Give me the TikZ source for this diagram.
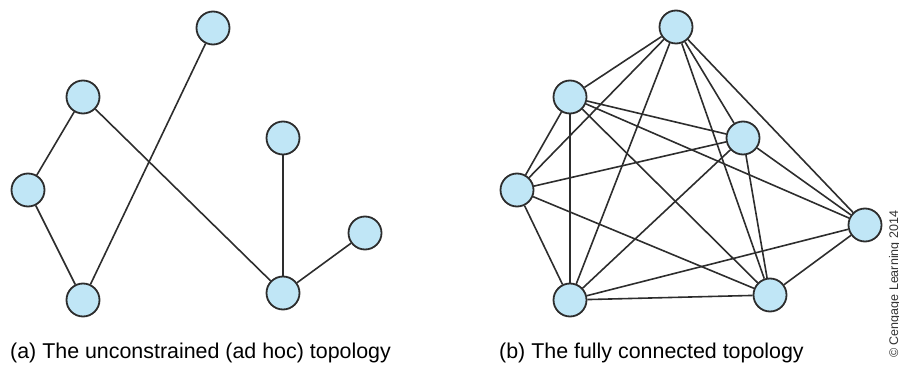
\documentclass[tikz,border=0pt]{standalone}
\usepackage{fontspec}
\setmainfont{Liberation Sans}
\definecolor{nodefill}{RGB}{192,230,246}
\definecolor{linegray}{RGB}{45,45,45}
\begin{document}
\begin{tikzpicture}[x=1pt,y=-1pt,
  station/.style={circle,draw=linegray,fill=nodefill,line width=1.8pt,minimum size=33pt,inner sep=0pt},
  link/.style={draw=linegray,line width=1.6pt},
  caption/.style={anchor=base west,inner sep=0pt,font=\fontsize{21.4}{24}\selectfont,text=black}]
\useasboundingbox (0,0) rectangle (899,366);

% (a) ad hoc topology
\node[station] (a1) at (213,28) {};
\node[station] (a2) at (83,97) {};
\node[station] (a3) at (28,190) {};
\node[station] (a4) at (83,300) {};
\node[station] (a5) at (283,138) {};
\node[station] (a6) at (365,233) {};
\node[station] (a7) at (283,293) {};
\foreach \u/\v in {a2/a3,a3/a4,a4/a1,a2/a7,a5/a7,a6/a7}
  \draw[link] (\u) -- (\v);

% (b) fully connected topology
\node[station] (b1) at (676,27) {};
\node[station] (b2) at (570,97) {};
\node[station] (b3) at (743,138) {};
\node[station] (b4) at (517,190) {};
\node[station] (b5) at (865,225) {};
\node[station] (b6) at (570,300) {};
\node[station] (b7) at (770,295) {};
\foreach \u/\v in {b1/b2,b1/b3,b1/b4,b1/b5,b1/b6,b1/b7,
                   b2/b3,b2/b4,b2/b5,b2/b6,b2/b7,
                   b3/b4,b3/b5,b3/b6,b3/b7,
                   b4/b6,b4/b7,
                   b5/b6,b5/b7,
                   b6/b7}
  \draw[link] (\u) -- (\v);

% captions
\node[caption] (capa) at (10,358) {(a) The unconstrained (ad hoc) topology};
\node[caption] (capb) at (499,358) {(b) The fully connected topology};
\node[anchor=base west,inner sep=0pt,rotate=90,font=\fontsize{12.5}{14}\selectfont,text=black!80] (copy) at (898,358) {\char"00A9\ Cengage Learning 2014};
\end{tikzpicture}
\end{document}
